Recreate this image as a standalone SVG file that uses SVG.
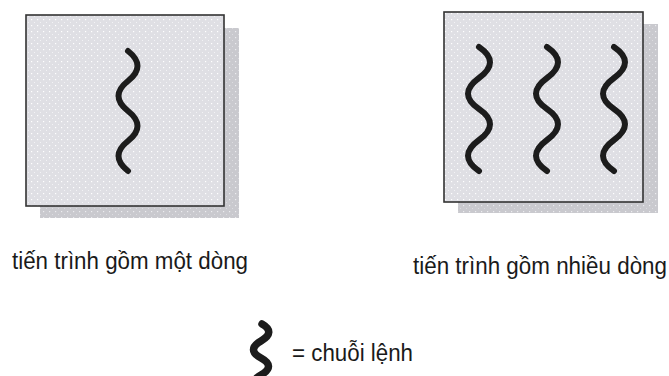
<svg xmlns="http://www.w3.org/2000/svg" width="669" height="376" viewBox="0 0 669 376">
  <defs>
    <pattern id="dots" width="6" height="6" patternUnits="userSpaceOnUse">
      <rect width="6" height="6" fill="#dfdfe4"/>
      <rect x="1" y="1" width="1.2" height="1.2" fill="#ffffff"/>
      <rect x="4" y="4" width="1" height="1" fill="#f2f2f5"/>
    </pattern>
    <pattern id="sdots" width="6" height="6" patternUnits="userSpaceOnUse">
      <rect width="6" height="6" fill="#c9c9ce"/>
      <rect x="1" y="1" width="1.2" height="1.2" fill="#ececf0"/>
      <rect x="4" y="4" width="1" height="1" fill="#dcdce0"/>
    </pattern>
  </defs>
  <style>
    .shadow { fill: url(#sdots); }
    .box { fill: url(#dots); stroke: #333333; stroke-width: 1.6; }
    .wave { fill: none; stroke: #1c1c1c; stroke-width: 6; stroke-linecap: round; }
    .wave-big { fill: none; stroke: #1c1c1c; stroke-width: 7.5; stroke-linecap: round; }
    .label { font-family: "Liberation Sans", Arial, sans-serif; font-size: 22px; fill: #1a1a1a; }
  </style>

  <g id="single-thread-process">
    <rect class="shadow" x="40" y="28" width="199" height="190"/>
    <rect class="box" x="26" y="15" width="198" height="191"/>
    <path class="wave" d="M128,51 Q147,66 128,81 T128,111 T128,141 T128,171"/>
    <text class="label" transform="translate(12,269) scale(1,1.12)" x="0" y="0" textLength="236" lengthAdjust="spacingAndGlyphs">tiến trình gồm một dòng</text>
  </g>

  <g id="multi-thread-process">
    <rect class="shadow" x="458" y="24" width="200" height="189"/>
    <rect class="box" x="444" y="12" width="199" height="190"/>
    <path class="wave" d="M479,47 Q501,62 479,78 T479,109 T479,140 T479,171"/>
    <path class="wave" d="M547,47 Q569,62 547,78 T547,109 T547,140 T547,171"/>
    <path class="wave" d="M614,47 Q636,62 614,78 T614,109 T614,140 T614,171"/>
    <text class="label" transform="translate(413,274) scale(1,1.12)" x="0" y="0" textLength="254" lengthAdjust="spacingAndGlyphs">tiến trình gồm nhiều dòng</text>
  </g>

  <g id="legend">
    <path class="wave-big" d="M262,324 Q276,332 261,341 T261,358 T261,375 T261,392"/>
    <text class="label" transform="translate(292,361) scale(1,1.12)" x="0" y="0" textLength="121" lengthAdjust="spacingAndGlyphs">= chuỗi lệnh</text>
  </g>

  <g id="connectors"/>
</svg>
